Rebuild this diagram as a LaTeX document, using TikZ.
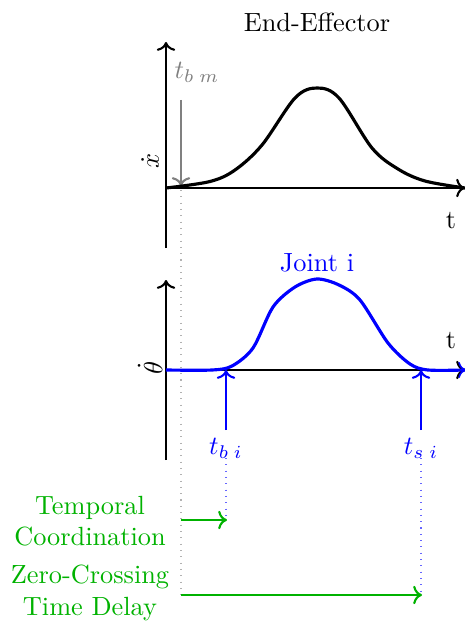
\documentclass[tikz,border=0pt]{standalone}
\usetikzlibrary{arrows.meta}
\definecolor{mygreen}{RGB}{0,178,0}
\begin{document}
\begin{tikzpicture}[x=0.38pt,y=-0.38pt,
  axis/.style={thick,->},
  curve/.style={very thick},
  garrow/.style={thick,->,mygreen},
  tlabel/.style={inner sep=0pt}]
\useasboundingbox (0,0) rectangle (465,621);
% top graph
\coordinate (o1) at (166,188);
\coordinate (y1b) at (166,248);
\coordinate (y1t) at (166,42);
\coordinate (x1e) at (465,188);
\draw[axis] (y1b) -- (y1t);
\draw[axis] (o1) -- (x1e);
\node[tlabel] (ee) at (317,22) {End-Effector};
\node[tlabel,rotate=90] (xd) at (150,161) {$\dot{x}$};
\node[tlabel] (t1) at (451,221) {t};
\node[tlabel,gray] (tbm) at (197,72) {$t_{b\;m}$};
\coordinate (gs) at (181,100);
\coordinate (ge) at (181,186);
\draw[thick,gray,->] (gs) -- (ge);
\coordinate (gd1) at (181,190);
\coordinate (gd2) at (181,598);
\draw[gray!60,dotted] (gd1) -- (gd2);
\draw[curve] plot[smooth,tension=0.55] coordinates {(166,188) (210,181.5) (235,170) (262,145) (295,98) (317,88) (339,98) (372,148) (398,169) (425,181) (465,188)};
% bottom graph
\coordinate (o2) at (166,370);
\coordinate (y2b) at (166,460);
\coordinate (y2t) at (166,280);
\coordinate (x2e) at (465,370);
\draw[axis] (y2b) -- (y2t);
\draw[axis] (o2) -- (x2e);
\node[tlabel,blue] (ji) at (317,263) {Joint i};
\node[tlabel,rotate=90] (thd) at (150,368) {$\dot{\theta}$};
\node[tlabel] (t2) at (451,341) {t};
\draw[curve,blue] plot[smooth,tension=0.5] coordinates {(166,370) (212,370) (232,366) (253,348) (273,307) (295,287) (317,279) (339,285) (360,300) (388,343) (410,364) (428,370) (465,370)};
\draw[blue,->,semithick] (465,370) -- (466,370);
\coordinate (b1s) at (226,430);
\coordinate (b1e) at (226,370);
\coordinate (b2s) at (421,430);
\coordinate (b2e) at (421,370);
\draw[thick,blue,->] (b1s) -- (b1e);
\draw[thick,blue,->] (b2s) -- (b2e);
\node[tlabel,blue] (tbi) at (226,448) {$t_{b\;i}$};
\node[tlabel,blue] (tsi) at (421,448) {$t_{s\;i}$};
\coordinate (bd1s) at (226,458);
\coordinate (bd1e) at (226,520);
\coordinate (bd2s) at (421,458);
\coordinate (bd2e) at (421,594);
\draw[blue!60,dotted] (bd1s) -- (bd1e);
\draw[blue!60,dotted] (bd2s) -- (bd2e);
% green annotations
\coordinate (g1s) at (181,520);
\coordinate (g1e) at (227,520);
\coordinate (g2s) at (181,595);
\coordinate (g2e) at (422,595);
\draw[garrow] (g1s) -- (g1e);
\draw[garrow] (g2s) -- (g2e);
\node[mygreen,align=center,inner sep=0pt] (tc) at (90,521) {Temporal\\Coordination};
\node[mygreen,align=center,inner sep=0pt] (zc) at (90,593) {Zero-Crossing\\Time Delay};
\end{tikzpicture}
\end{document}
